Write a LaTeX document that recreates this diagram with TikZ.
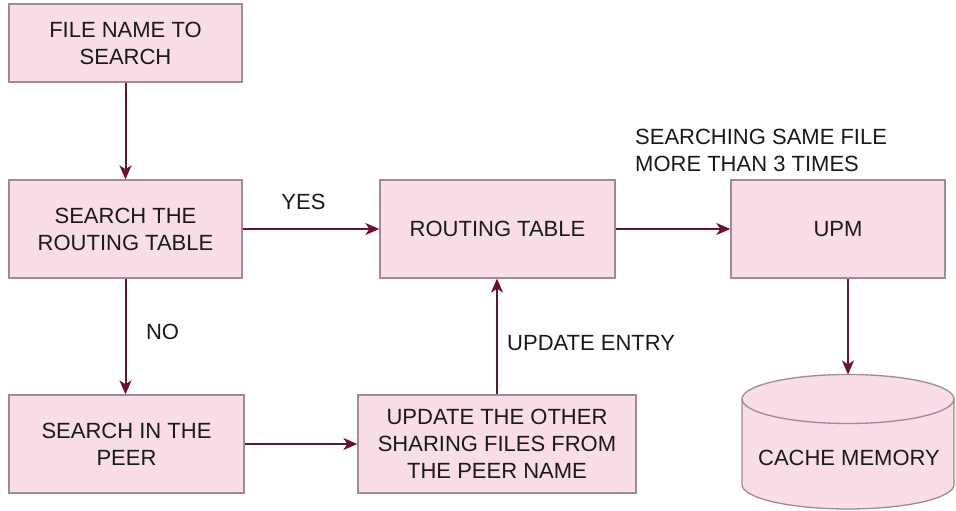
\documentclass[tikz,border=0pt]{standalone}
\usepackage{fontspec}
\setmainfont{Liberation Sans}
\usetikzlibrary{arrows.meta}
\definecolor{boxfill}{HTML}{F9DDE8}
\definecolor{boxline}{HTML}{A08A96}
\definecolor{arrowcol}{HTML}{5C1836}
\definecolor{headcol}{HTML}{6A0F35}
\definecolor{txt}{HTML}{1A1A1A}
\begin{document}
\begin{tikzpicture}[x=1pt,y=1pt,
  font=\fontsize{22}{27}\selectfont,
  box/.style={draw=boxline, line width=1.3pt, fill=boxfill, text=txt, align=center, inner sep=0pt},
  conn/.style={draw=arrowcol, line width=2pt, -{Stealth[length=14pt,width=12pt,inset=4pt,color=headcol]}},
  lbl/.style={text=txt, inner sep=0pt, align=left}]
\useasboundingbox (0,0) rectangle (956,511);
\fill[white] (0,0) rectangle (956,511);

\node[box, minimum width=233pt, minimum height=78pt] (b1) at (125.5,468) {FILE NAME TO\\SEARCH};
\node[box, minimum width=233pt, minimum height=98pt] (b2) at (125.5,282) {SEARCH THE\\ROUTING TABLE};
\node[box, minimum width=235pt, minimum height=98pt] (rt) at (497.5,282) {ROUTING TABLE};
\node[box, minimum width=214pt, minimum height=98pt] (upm) at (838,282) {UPM};
\node[box, minimum width=235pt, minimum height=98pt] (b3) at (126.5,67) {SEARCH IN THE\\PEER};
\node[box, minimum width=278pt, minimum height=98pt] (upd) at (497,67) {UPDATE THE OTHER\\SHARING FILES FROM\\THE PEER NAME};

% cylinder (cache memory)
\path[draw=boxline, line width=1.3pt, fill=boxfill]
  (742,112) -- (742,26.5) arc[start angle=180, end angle=360, x radius=106, y radius=24.5]
  -- (954,112) arc[start angle=0, end angle=180, x radius=106, y radius=24.5] -- cycle;
\draw[boxline, line width=1.3pt] (742,112) arc[start angle=180, end angle=360, x radius=106, y radius=24.5];
\node[lbl] (cm) at (849,53) {CACHE MEMORY};
\coordinate (cmtop) at (848,136.5);

% connectors
\draw[conn] (b1.south) -- (b2.north);
\draw[conn] (b2.south) -- (b2.south |- b3.north);
\draw[conn] (b2.east) -- (rt.west);
\draw[conn] (rt.east) -- (upm.west);
\draw[conn] (cmtop |- upm.south) -- (cmtop);
\draw[conn] (b3.east) -- (upd.west);
\draw[conn] (upd.north) -- (upd.north |- rt.south);

% labels
\node[lbl] (yes) at (303.5,309) {YES};
\node[lbl] (no) at (162.5,179) {NO};
\node[lbl, anchor=west] (ue) at (507,168) {UPDATE ENTRY};
\node[lbl, anchor=west] (sm) at (635,361) {SEARCHING SAME FILE\\MORE THAN 3 TIMES};
\end{tikzpicture}
\end{document}
